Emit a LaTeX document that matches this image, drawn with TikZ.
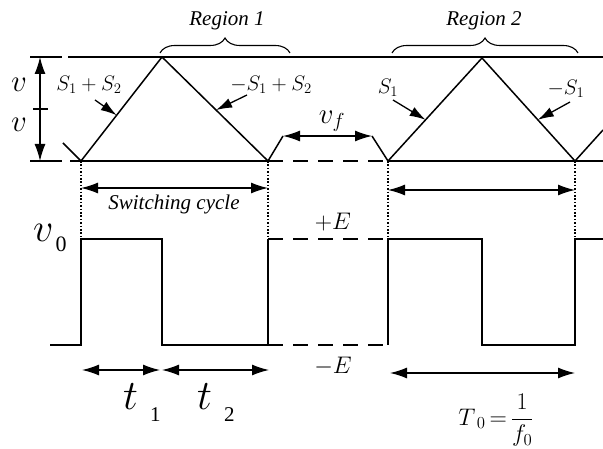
\documentclass[tikz,border=0pt]{standalone}
\usepackage{fix-cm}
\usepackage{fontspec}
\setmainfont{Liberation Serif}
\usetikzlibrary{arrows.meta, calc, decorations.pathreplacing}

\tikzset{
  wave/.style={line width=1.5pt},
  guide/.style={line width=1.3pt},
  gapline/.style={line width=1.4pt, dash pattern=on 15pt off 10pt},
  marker/.style={line width=1.3pt, dash pattern=on 1.6pt off 1.8pt},
  span/.style={line width=1.3pt, {Latex[length=17pt,width=11pt]}-{Latex[length=17pt,width=11pt]}},
  pointer/.style={line width=1.3pt, -{Latex[length=16pt,width=10pt]}},
  region/.style={decorate, decoration={brace, amplitude=15pt}, line width=1.1pt},
  txt/.style={font=\fontsize{21}{23}\selectfont\itshape, inner sep=0pt},
  sym/.style={font=\fontsize{21}{23}\selectfont, inner sep=0pt},
  level/.style={font=\fontsize{24}{26}\selectfont, inner sep=0pt},
}

\begin{document}
\begin{tikzpicture}[x=1pt,y=-1pt]
\useasboundingbox (0,0) rectangle (603,449);

% carrier corners
\coordinate (s0) at (63,143);
\coordinate (f1) at (81,161);
\coordinate (p1) at (162,57);
\coordinate (f2) at (268,161);
\coordinate (h1) at (283,136);
\coordinate (h2) at (372,136);
\coordinate (f3) at (388,161);
\coordinate (p2) at (482,58);
\coordinate (f4) at (575,161);
\coordinate (e1) at (603,130);

% levels
\draw[guide] (30,57) -- (62,57);
\draw[guide] (68,57) -- (603,57);
\draw[guide] (30,161) -- (62,161);
\draw[guide] (70,161) -- (f2);
\draw[gapline] (f2) -- (f3);
\draw[guide] (f3) -- (603,161);
\draw[span] (40,57) -- (40,161);
\draw[guide] (33,109) -- (48,109);
\node[anchor=base west, inner sep=0pt] (va) at (11,92) {\fontsize{31}{31}\selectfont$v$};
\node[anchor=base west, inner sep=0pt] (vb) at (11,132) {\fontsize{31}{31}\selectfont$v$};

% carrier
\draw[wave] (s0) -- (f1) -- (p1) -- (f2) -- (h1);
\draw[wave] (h2) -- (f3) -- (p2) -- (f4) -- (e1);
\draw[span] (h1) -- (h2);
\node[inner sep=0pt] (vf) at (332,121) {\fontsize{29}{29}\selectfont$v_f$};

% regions
\draw[region] (160,53) -- (290,53);
\node[txt] (r1) at (227,21) {Region 1};
\draw[region] (392,53) -- (578,53);
\node[txt] (r2) at (484,21) {Region 2};

% comparison signals
\node[sym] (c1) at (89,85) {$S_1+S_2$};
\node[sym] (c2) at (271,85) {$-S_1+S_2$};
\node[sym] (c3) at (388,88) {$S_1$};
\node[sym] (c4) at (566,89) {$-S_1$};
\draw[pointer] (95,100) -- ($(f1)!0.44!(p1)$);
\draw[pointer] (247,95) -- ($(p1)!0.51!(f2)$);
\draw[pointer] (393,100) -- ($(f3)!0.40!(p2)$);
\draw[pointer] (570,102) -- ($(p2)!0.6!(f4)$);

% switching cycles
\foreach \x in {81,268,388,575}
  \draw[marker] (\x,161) -- (\x,238);
\draw[span] (81,188) -- (268,188);
\node[txt] (sc) at (174,204) {Switching cycle};
\draw[span] (388,190) -- (575,190);

% output voltage
\node[anchor=base west, inner sep=0pt] (v0) at (33,242)
  {\fontsize{40}{40}\selectfont$v$\hspace{2pt}\raisebox{-10pt}{\fontsize{22}{22}\selectfont 0}};
\draw[wave] (50,345) -- (81,345) -- (81,239) -- (162,239) -- (162,345)
  -- (268,345) -- (268,239);
\draw[gapline] (268,239) -- (388,239);
\draw[gapline] (268,345) -- (388,345);
\draw[wave] (388,345) -- (388,239) -- (482,239) -- (482,345) -- (575,345)
  -- (575,239) -- (603,239);
\node[level] (pe) at (333,222) {$+E$};
\node[level] (me) at (333,366) {$-E$};

% durations
\draw[span] (82,370) -- (160,370);
\draw[span] (162,370) -- (269,370);
\draw[span] (390,373) -- (575,373);
\node[anchor=base west, inner sep=0pt] (t1) at (123,409)
  {\fontsize{42}{42}\selectfont$t$\hspace{12pt}\raisebox{-13pt}{\fontsize{21}{21}\selectfont 1}};
\node[anchor=base west, inner sep=0pt] (t2) at (197,409)
  {\fontsize{42}{42}\selectfont$t$\hspace{12pt}\raisebox{-13pt}{\fontsize{21}{21}\selectfont 2}};
\node[level] (tp) at (496,420) {$\displaystyle T_{\;0}\,{=}\,\frac{1}{f_0}$};
\end{tikzpicture}
\end{document}
